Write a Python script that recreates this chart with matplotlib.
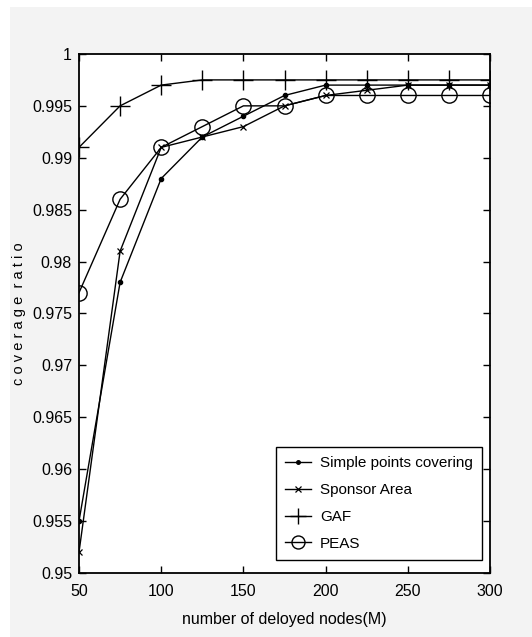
import numpy as np
import matplotlib.pyplot as plt
from matplotlib.patches import Rectangle
from matplotlib.ticker import FixedLocator, FixedFormatter

plt.rcParams['font.family'] = ['Liberation Sans', 'DejaVu Sans']

nodes = [50, 75, 100, 125, 150, 175, 200, 225, 250, 275, 300]
simple = [0.955, 0.978, 0.988, 0.992, 0.994, 0.996, 0.997, 0.997, 0.997, 0.997, 0.997]
sponsor = [0.952, 0.981, 0.991, 0.992, 0.993, 0.995, 0.996, 0.9965, 0.997, 0.997, 0.997]
gaf = [0.991, 0.995, 0.997, 0.9975, 0.9975, 0.9975, 0.9975, 0.9975, 0.9975, 0.9975, 0.9975]
peas = [0.977, 0.986, 0.991, 0.993, 0.995, 0.995, 0.996, 0.996, 0.996, 0.996, 0.996]

xticks = [50, 100, 150, 200, 250, 300]
yticks = [0.95, 0.955, 0.96, 0.965, 0.97, 0.975, 0.98, 0.985, 0.99, 0.995, 1.0]
ylabels = ['0.95', '0.955', '0.96', '0.965', '0.97', '0.975', '0.98', '0.985', '0.99', '0.995', '1']

fig = plt.figure(figsize=(5.32, 6.37), dpi=100, facecolor='white')
# grey panel like the matlab window background
fig.patches.append(Rectangle((0.0188, 0), 0.9812, 0.989, transform=fig.transFigure,
                             facecolor='#f3f3f3', edgecolor='none', zorder=-10))
ax = fig.add_axes([0.1485, 0.1005, 0.7726, 0.8148])
ax.set_facecolor('white')

lw = 1.0
ax.plot(nodes, simple, color='black', lw=lw, marker='.', ms=6, label='Simple points covering')
ax.plot(nodes, sponsor, color='black', lw=lw, marker='x', ms=5, mew=0.9, label='Sponsor Area')
ax.plot(nodes, gaf, color='black', lw=lw, marker='+', ms=14, mew=1.0, label='GAF')
ax.plot(nodes, peas, color='black', lw=lw, marker='o', ms=11, mfc='none', mew=1.0, label='PEAS')

ax.set_xlim(50, 300)
ax.set_ylim(0.95, 1.0)
ax.xaxis.set_major_locator(FixedLocator(xticks))
ax.yaxis.set_major_locator(FixedLocator(yticks))
ax.yaxis.set_major_formatter(FixedFormatter(ylabels))
ax.tick_params(direction='in', top=True, right=True, length=5, width=1, labelsize=11.5)
ax.tick_params(axis='x', pad=8)
ax.tick_params(axis='y', pad=5)
for s in ax.spines.values():
    s.set_linewidth(1.3)

ax.set_xlabel('number of deloyed nodes(M)', fontsize=11.5, labelpad=9)
ax.set_ylabel('c o v e r a g e  r a t i o', fontsize=10.5, labelpad=4)

leg = ax.legend(loc='lower right', bbox_to_anchor=(0.9805, 0.025), fontsize=11,
                fancybox=False, framealpha=1, edgecolor='black', handlelength=1.7,
                handletextpad=0.6, borderpad=0.6, labelspacing=0.85, borderaxespad=0,
                markerscale=0.85)
leg.get_frame().set_linewidth(1.0)

fig.savefig('out.png', dpi=100, facecolor=fig.get_facecolor())
